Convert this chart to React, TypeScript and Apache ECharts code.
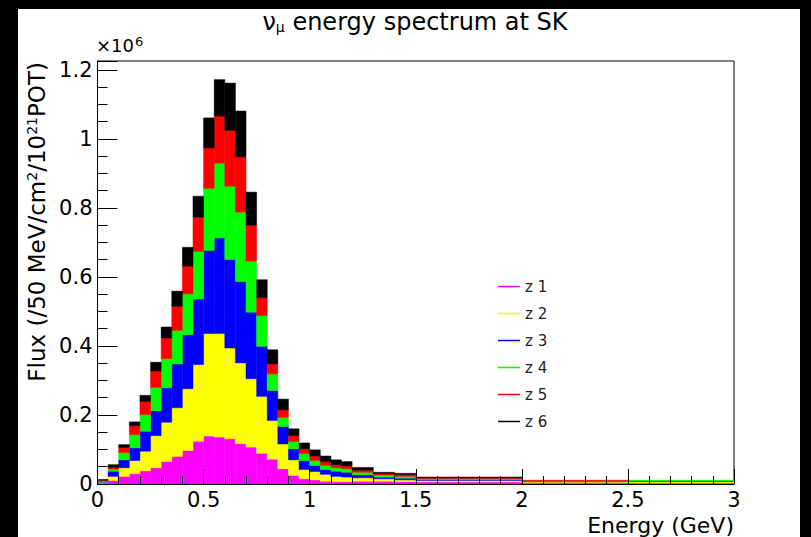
import React, { useEffect, useRef } from "react";
import * as echarts from "echarts";

// Bin edges in GeV (variable binning)
const BIN_EDGES = [
  0, 0.05, 0.1, 0.15, 0.2, 0.25, 0.3, 0.35, 0.4, 0.45, 0.5, 0.55, 0.6, 0.65,
  0.7, 0.75, 0.8, 0.85, 0.9, 0.95, 1.0, 1.05, 1.1, 1.15, 1.2, 1.3, 1.4, 1.5,
  2.0, 2.5, 3.0,
];

const SERIES_NAMES = ["z 1", "z 2", "z 3", "z 4", "z 5", "z 6"];
const SERIES_COLORS = ["#ff00ff", "#ffff00", "#0000ff", "#00ff00", "#ff0000", "#000000"];

// Flux per bin, in units of 10^6
const Z1 = [0.003, 0.010, 0.022, 0.030, 0.038, 0.047, 0.065, 0.080, 0.097, 0.124, 0.139, 0.136, 0.131, 0.117, 0.107, 0.089, 0.072, 0.044, 0.025, 0.015, 0.012, 0.008, 0.007, 0.007, 0.008, 0.008, 0.007, 0.006, 0.003, 0.003];
const Z2 = [0.002, 0.012, 0.025, 0.038, 0.057, 0.093, 0.114, 0.141, 0.179, 0.222, 0.297, 0.300, 0.263, 0.234, 0.198, 0.165, 0.112, 0.072, 0.045, 0.027, 0.024, 0.020, 0.015, 0.013, 0.010, 0.007, 0.005, 0.004, 0.003, 0.004];
const Z3 = [0.003, 0.015, 0.023, 0.037, 0.058, 0.072, 0.100, 0.127, 0.157, 0.190, 0.241, 0.277, 0.257, 0.236, 0.193, 0.145, 0.087, 0.051, 0.032, 0.026, 0.018, 0.014, 0.015, 0.014, 0.009, 0.005, 0.005, 0.003, 0.002, 0.0015];
const Z4 = [0.002, 0.006, 0.021, 0.038, 0.048, 0.068, 0.084, 0.097, 0.118, 0.138, 0.180, 0.217, 0.212, 0.201, 0.148, 0.089, 0.048, 0.026, 0.021, 0.020, 0.014, 0.012, 0.010, 0.010, 0.007, 0.006, 0.005, 0.003, 0.0015, 0.0025];
const Z5 = [0.001, 0.005, 0.015, 0.026, 0.038, 0.047, 0.060, 0.070, 0.080, 0.099, 0.117, 0.136, 0.162, 0.160, 0.104, 0.052, 0.029, 0.022, 0.017, 0.014, 0.013, 0.011, 0.009, 0.008, 0.006, 0.004, 0.005, 0.002, 0.0015, 0];
const Z6 = [0.002, 0.008, 0.008, 0.011, 0.018, 0.026, 0.032, 0.044, 0.055, 0.061, 0.087, 0.106, 0.137, 0.133, 0.096, 0.052, 0.041, 0.031, 0.020, 0.017, 0.018, 0.016, 0.014, 0.013, 0.008, 0.004, 0.004, 0.002, 0, 0];

const LAYERS = [Z1, Z2, Z3, Z4, Z5, Z6];

const FONT = "'DejaVu Sans', 'Liberation Sans', sans-serif";

export default function App() {
  const ref = useRef<HTMLDivElement>(null);

  useEffect(() => {
    if (!ref.current) return;
    const chart = echarts.init(ref.current, null, { renderer: "svg" });

    const cum = new Array(BIN_EDGES.length - 1).fill(0);
    const series = LAYERS.map((vals, k) => {
      const color = SERIES_COLORS[k];
      const data = vals.map((v, i) => {
        const y0 = cum[i];
        cum[i] = cum[i] + v;
        return [BIN_EDGES[i], BIN_EDGES[i + 1], y0, cum[i]];
      });
      return {
        type: "custom",
        name: SERIES_NAMES[k],
        itemStyle: { color },
        encode: { x: [0, 1], y: [2, 3] },
        data,
        clip: true,
        z: 2,
        renderItem: (params: any, api: any) => {
          const p0 = api.coord([api.value(0), api.value(3)]);
          const p1 = api.coord([api.value(1), api.value(2)]);
          const w = p1[0] - p0[0];
          const h = p1[1] - p0[1];
          if (h <= 0.01) return null;
          return {
            type: "rect",
            shape: { x: p0[0], y: p0[1], width: w, height: h },
            style: { fill: color, stroke: color, lineWidth: 0.5 },
          };
        },
      };
    });

    const option: any = {
      animation: false,
      backgroundColor: "transparent",
      grid: {
        left: 97.5,
        right: 77,
        top: 61,
        bottom: 53,
        show: true,
        borderColor: "#000",
        borderWidth: 1,
        backgroundColor: "transparent",
      },
      xAxis: {
        type: "value",
        min: 0,
        max: 3,
        interval: 0.5,
        z: 10,
        axisLine: { show: true, lineStyle: { color: "#000", width: 1 } },
        axisTick: { show: true, inside: true, length: 15, lineStyle: { color: "#000" } },
        minorTick: { show: true, splitNumber: 5, length: 8, lineStyle: { color: "#000" } },
        splitLine: { show: false },
        axisLabel: { color: "#000", fontSize: 21, fontFamily: FONT, margin: 5 },
      },
      yAxis: {
        type: "value",
        min: 0,
        max: 1.226,
        interval: 0.2,
        z: 10,
        axisLine: { show: true, lineStyle: { color: "#000", width: 1 } },
        axisTick: { show: true, inside: true, length: 20, lineStyle: { color: "#000" } },
        minorTick: { show: true, splitNumber: 4, length: 10, lineStyle: { color: "#000" } },
        splitLine: { show: false },
        axisLabel: {
          color: "#000",
          fontSize: 21,
          fontFamily: FONT,
          margin: 5,
          showMaxLabel: false,
        },
      },
      legend: {
        orient: "vertical",
        left: 493,
        top: 274,
        itemWidth: 22,
        itemHeight: 1.5,
        itemGap: 12,
        icon: "rect",
        data: SERIES_NAMES,
        textStyle: { color: "#222", fontSize: 15, fontFamily: FONT, lineHeight: 14 },
      },
      graphic: [
        {
          type: "text",
          x: 415,
          y: 22,
          style: {
            text: "ν{sub|μ} energy spectrum at SK",
            align: "center",
            verticalAlign: "middle",
            textAlign: "center",
            textVerticalAlign: "middle",
            font: `24px ${FONT}`,
            fill: "#000",
            rich: {
              sub: { fontSize: 14, fontFamily: FONT, verticalAlign: "bottom", padding: [10, 0, 0, 0] },
            },
          },
        },
        {
          type: "text",
          x: 96,
          y: 45,
          style: {
            text: "×10{sup|6}",
            align: "left",
            verticalAlign: "middle",
            textAlign: "left",
            textVerticalAlign: "middle",
            font: `18px ${FONT}`,
            fill: "#000",
            rich: {
              sup: { fontSize: 13, fontFamily: FONT, verticalAlign: "top", padding: [0, 0, 8, 1] },
            },
          },
        },
        {
          type: "text",
          x: 37,
          y: 62,
          rotation: Math.PI / 2,
          style: {
            text: "Flux (/50 MeV/cm{sup|2}/10{sup|21}POT)",
            align: "right",
            verticalAlign: "middle",
            textAlign: "right",
            textVerticalAlign: "middle",
            font: `23px ${FONT}`,
            fill: "#000",
            rich: {
              sup: { fontSize: 14, fontFamily: FONT, verticalAlign: "top", padding: [0, 0, 10, 0] },
            },
          },
        },
        {
          type: "text",
          x: 734,
          y: 525,
          style: {
            text: "Energy (GeV)",
            align: "right",
            verticalAlign: "middle",
            textAlign: "right",
            textVerticalAlign: "middle",
            font: `22px ${FONT}`,
            fill: "#000",
          },
        },
      ],
      series,
    };

    chart.setOption(option);
    return () => {
      chart.dispose();
    };
  }, []);

  return (
    <div
      style={{
        position: "fixed",
        left: 0,
        top: 0,
        width: 811,
        height: 537,
        background: "#000",
        overflow: "hidden",
      }}
    >
      <div
        style={{
          position: "absolute",
          left: 18,
          top: 9,
          width: 782,
          height: 528,
          background: "#fff",
        }}
      />
      <div
        ref={ref}
        style={{ position: "absolute", left: 0, top: 0, width: 811, height: 537 }}
      />
    </div>
  );
}
